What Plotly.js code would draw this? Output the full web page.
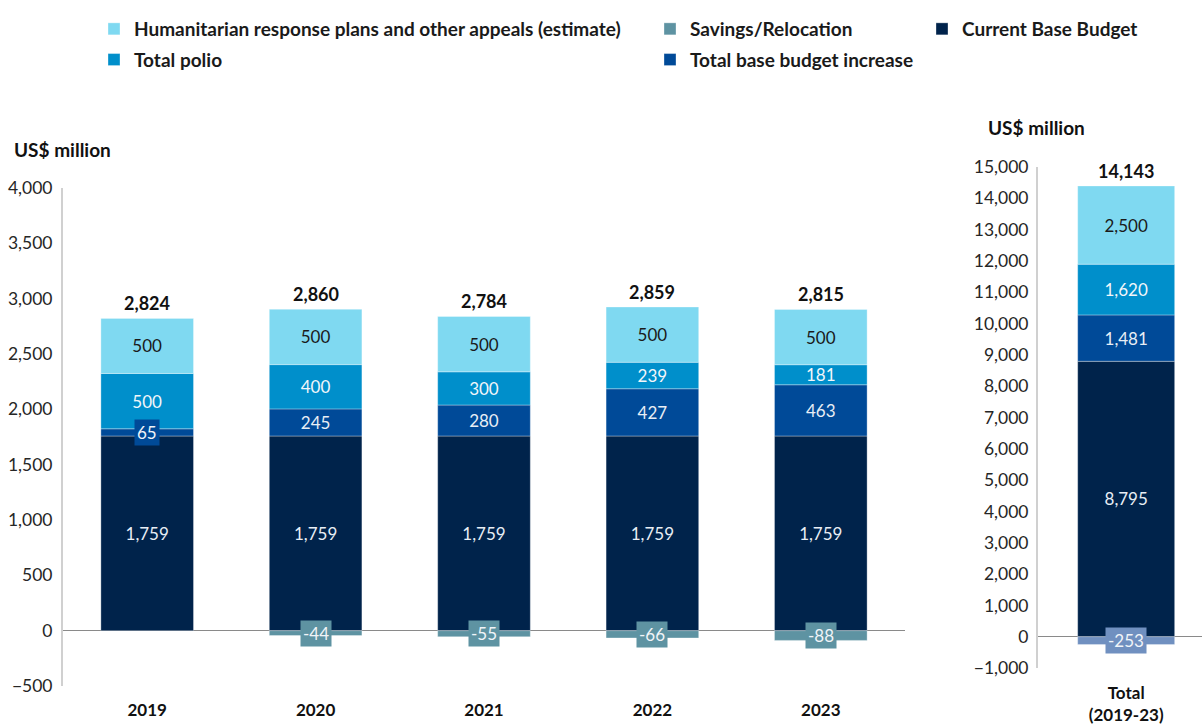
<!DOCTYPE html>
<html><head><meta charset="utf-8">
<script src="https://cdn.plot.ly/plotly-3.0.1.min.js"></script>
<style>html,body{margin:0;padding:0;background:#fff}#chart{width:1202px;height:726px}</style>
</head><body><div id="chart"></div>
<script>
// ---- data ----
const years = ['2019', '2020', '2021', '2022', '2023'];
const currentBase = [1759, 1759, 1759, 1759, 1759];
const baseIncrease = [65, 245, 280, 427, 463];
const polio = [500, 400, 300, 239, 181];
const humanitarian = [500, 500, 500, 500, 500];
const savings = [0, -44, -55, -66, -88];
const totals = [2824, 2860, 2784, 2859, 2815];

const totalCategory = ['Total (2019-23)'];
const totalTickLabel = ['Total<br>(2019-23)'];
const totalCurrentBase = [8795];
const totalBaseIncrease = [1481];
const totalPolio = [1620];
const totalHumanitarian = [2500];
const totalSavings = [-253];
const grandTotal = [14143];

const seriesNames = {
  hum: 'Humanitarian response plans and other appeals (estimate)',
  sav: 'Savings/Relocation',
  cur: 'Current Base Budget',
  pol: 'Total polio',
  inc: 'Total base budget increase'
};

// ---- styles ----
const C = {
  hum: '#7FD9F1', pol: '#008FCB', inc: '#004A98', cur: '#00234B',
  sav: '#5E93A2', savR: '#7090C0'
};
const FONT = 'Lato, "Open Sans", sans-serif';
const fmt = v => v.toLocaleString('en-US');
const W = 1202, H = 726;
const px = x => x / W, py = y => 1 - y / H;
const edge = {width: 0.6, color: 'rgba(255,255,255,0.55)'};
const SMALL = 100;

function bar(x, y, xa, ya, key, color, opts) {
  return Object.assign({
    type: 'bar', x: x, y: y, xaxis: xa, yaxis: ya, name: seriesNames[key],
    legendgroup: key, marker: {color: color, line: edge},
    hoverinfo: 'x+y+name', textposition: 'inside', insidetextanchor: 'middle',
    textangle: 0, constraintext: 'none', cliponaxis: false
  }, opts);
}
const labels = (arr, col) => ({
  text: arr.map(v => Math.abs(v) < SMALL ? '' : fmt(v)),
  textfont: {family: FONT, size: 17, color: col}
});

const traces = [
  bar(years, currentBase, 'x', 'y', 'cur', C.cur, Object.assign({legend: 'legend3', legendrank: 1}, labels(currentBase, '#E8EEF5'))),
  bar(years, baseIncrease, 'x', 'y', 'inc', C.inc, Object.assign({legend: 'legend2', legendrank: 2}, labels(baseIncrease, '#E8EEF5'))),
  bar(years, polio, 'x', 'y', 'pol', C.pol, Object.assign({legend: 'legend', legendrank: 2}, labels(polio, '#F2F6FA'))),
  bar(years, humanitarian, 'x', 'y', 'hum', C.hum, Object.assign({legend: 'legend', legendrank: 1}, labels(humanitarian, '#1A1A1A'))),
  bar(years, savings, 'x', 'y', 'sav', C.sav, {legend: 'legend2', legendrank: 1, text: savings.map(() => '')}),
  // right panel
  bar(totalCategory, totalCurrentBase, 'x2', 'y2', 'cur', C.cur, Object.assign({showlegend: false}, labels(totalCurrentBase, '#E8EEF5'))),
  bar(totalCategory, totalBaseIncrease, 'x2', 'y2', 'inc', C.inc, Object.assign({showlegend: false}, labels(totalBaseIncrease, '#E8EEF5'))),
  bar(totalCategory, totalPolio, 'x2', 'y2', 'pol', C.pol, Object.assign({showlegend: false}, labels(totalPolio, '#F2F6FA'))),
  bar(totalCategory, totalHumanitarian, 'x2', 'y2', 'hum', C.hum, Object.assign({showlegend: false}, labels(totalHumanitarian, '#1A1A1A'))),
  bar(totalCategory, totalSavings, 'x2', 'y2', 'sav', C.savR, {showlegend: false, text: ['']})
];

// ---- annotations (x given as category index so numeric-looking names are not misread) ----
const annotations = [];
function boxLabel(x, base, v, xref, yref, color) {
  annotations.push({x: x, y: base + v / 2, xref: xref, yref: yref, text: fmt(v),
    showarrow: false, bgcolor: color, borderpad: 2,
    font: {family: FONT, size: 17, color: '#F0F4F8'}});
}
years.forEach((yr, i) => {
  if (Math.abs(baseIncrease[i]) < SMALL) boxLabel(i, currentBase[i], baseIncrease[i], 'x', 'y', C.inc);
  if (savings[i] !== 0 && Math.abs(savings[i]) < SMALL) boxLabel(i, 0, savings[i], 'x', 'y', C.sav);
  const top = currentBase[i] + baseIncrease[i] + polio[i] + humanitarian[i];
  annotations.push({x: i, y: top, xref: 'x', yref: 'y', text: fmt(totals[i]),
    showarrow: false, yanchor: 'bottom', yshift: 2,
    font: {family: FONT, size: 18, color: '#111', weight: 'bold'}});
});
boxLabel(0, 0, totalSavings[0], 'x2', 'y2', C.savR);
{
  const top = totalCurrentBase[0] + totalBaseIncrease[0] + totalPolio[0] + totalHumanitarian[0];
  annotations.push({x: 0, y: top, xref: 'x2', yref: 'y2', text: fmt(grandTotal[0]),
    showarrow: false, yanchor: 'bottom', yshift: 2,
    font: {family: FONT, size: 18, color: '#111', weight: 'bold'}});
}
annotations.push({x: px(12), y: py(150), xref: 'paper', yref: 'paper', xanchor: 'left', yanchor: 'middle',
  text: 'US$ million', showarrow: false, font: {family: FONT, size: 19, color: '#111', weight: 'bold'}});
annotations.push({x: px(986), y: py(127), xref: 'paper', yref: 'paper', xanchor: 'left', yanchor: 'middle',
  text: 'US$ million', showarrow: false, font: {family: FONT, size: 19, color: '#111', weight: 'bold'}});

// ---- layout ----
const legendBase = {
  orientation: 'v', xanchor: 'left', yanchor: 'top', y: py(10),
  bgcolor: 'rgba(0,0,0,0)', tracegroupgap: 3, traceorder: 'grouped',
  font: {family: FONT, size: 19, color: '#1A1A1A', weight: 'bold'}
};
const yTick = {family: FONT, size: 17.5, color: '#262626'};
const layout = {
  width: W, height: H, margin: {l: 0, r: 0, t: 0, b: 0},
  paper_bgcolor: '#fff', plot_bgcolor: '#fff',
  barmode: 'relative', bargap: 0.45, showlegend: true,
  legend: Object.assign({}, legendBase, {x: px(94)}),
  legend2: Object.assign({}, legendBase, {x: px(650)}),
  legend3: Object.assign({}, legendBase, {x: px(922)}),
  xaxis: {domain: [px(63), px(905)], type: 'category', range: [-0.5, 4.5],
    showline: false, showgrid: false, zeroline: false, ticks: '', ticklabelstandoff: 12,
    tickfont: {family: FONT, size: 17, color: '#111', weight: 'bold'}, fixedrange: true},
  yaxis: {domain: [py(686), py(188)], range: [-500, 4000], dtick: 500, tickformat: ',',
    showline: true, linecolor: '#D0D0D0', linewidth: 2, showgrid: false,
    zeroline: true, zerolinecolor: '#8A8A8A', zerolinewidth: 1.5,
    ticks: '', ticklabelstandoff: 5, tickfont: yTick, fixedrange: true},
  xaxis2: {domain: [px(1038), 1], type: 'category', range: [-0.5, 0.43], anchor: 'y2',
    tickvals: totalCategory, ticktext: totalTickLabel,
    showline: false, showgrid: false, zeroline: false, ticks: '', ticklabelstandoff: 13,
    tickfont: {family: FONT, size: 17, color: '#111', weight: 'bold'}, fixedrange: true},
  yaxis2: {domain: [py(668), py(167)], range: [-1000, 15000], dtick: 1000, tickformat: ',', anchor: 'x2',
    showline: true, linecolor: '#D0D0D0', linewidth: 2, showgrid: false,
    zeroline: true, zerolinecolor: '#8A8A8A', zerolinewidth: 1.5,
    ticks: '', ticklabelstandoff: 4, tickfont: yTick, fixedrange: true},
  annotations: annotations
};
Plotly.newPlot('chart', traces, layout, {displayModeBar: false, staticPlot: true});
</script></body></html>
